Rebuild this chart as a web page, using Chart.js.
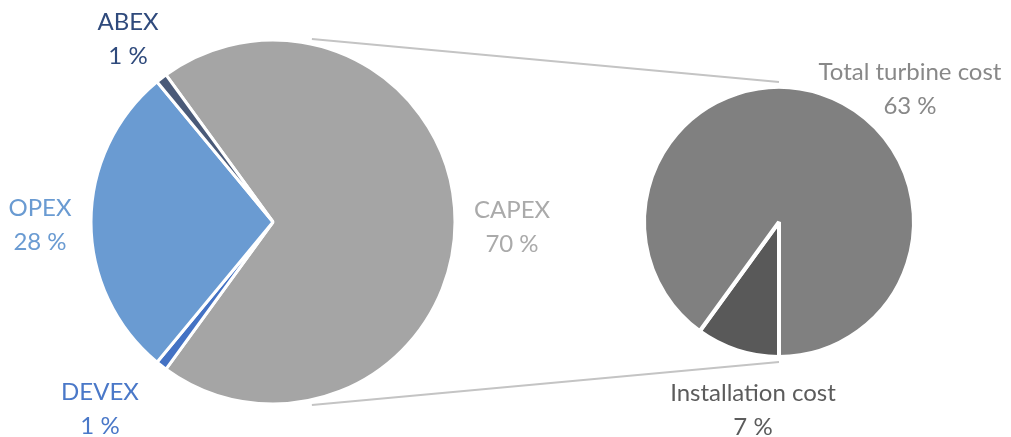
<!DOCTYPE html>
<html>
<head>
<meta charset="utf-8">
<script src="https://cdn.jsdelivr.net/npm/chart.js@4.4.0/dist/chart.umd.min.js"></script>
<style>
  html, body { margin: 0; padding: 0; background: #fff; }
  #wrap { position: relative; width: 1011px; height: 437px; }
  #wrap canvas { position: absolute; left: 0; top: 0; }
</style>
</head>
<body>
<div id="wrap">
  <canvas id="mainPie" width="1011" height="437"></canvas>
  <canvas id="subPie" width="1011" height="437"></canvas>
</div>
<script>
// cost breakdown (share of lifetime cost, %)
const costCategories = ['CAPEX', 'DEVEX', 'OPEX', 'ABEX'];
const costShares = [70, 1, 28, 1];
const costColors = ['#a5a5a5', '#4472c4', '#6a9bd2', '#4a5a78'];
const costLabelColors = ['#aaaaaa', '#4a78c8', '#6a9bd2', '#2f4a7c'];

// CAPEX split
const capexCategories = ['Installation cost', 'Total turbine cost'];
const capexShares = [7, 63];
const capexColors = ['#595959', '#808080'];
const capexLabelColors = ['#5c5c5c', '#888888'];

const W = 1011, H = 437;
const FONT = '24px Lato, "Open Sans", sans-serif';

// where each pie sits on the page
const mainGeom = { cx: 273, cy: 222, r: 182 };
const subGeom = { cx: 779, cy: 222, r: 135 };

// label anchors (text centre, first line)
const mainLabelPos = {
  CAPEX: [512, 210],
  DEVEX: [100, 392],
  OPEX: [40, 208],
  ABEX: [128, 22]
};
const subLabelPos = {
  'Installation cost': [753, 393],
  'Total turbine cost': [910, 72]
};

function paddingFor(g, border) {
  const s = border / 2;
  return {
    left: g.cx - g.r - s,
    right: W - g.cx - g.r - s,
    top: g.cy - g.r - s,
    bottom: H - g.cy - g.r - s
  };
}

function labelPlugin(id, cats, values, colors, pos) {
  return {
    id: id,
    afterDraw(chart) {
      const ctx = chart.ctx;
      ctx.save();
      ctx.font = FONT;
      ctx.textAlign = 'center';
      ctx.textBaseline = 'middle';
      cats.forEach((c, i) => {
        const p = pos[c];
        ctx.fillStyle = colors[i];
        ctx.fillText(c, p[0], p[1]);
        ctx.fillText(values[i] + ' %', p[0], p[1] + 34);
      });
      ctx.restore();
    }
  };
}

function pieOptions(g, border, rotation) {
  return {
    responsive: false,
    animation: false,
    events: [],
    rotation: rotation,
    layout: { padding: paddingFor(g, border) },
    plugins: { legend: { display: false }, tooltip: { enabled: false } }
  };
}

const mainChart = new Chart(document.getElementById('mainPie'), {
  type: 'pie',
  data: {
    labels: costCategories,
    datasets: [{
      data: costShares,
      backgroundColor: costColors,
      borderColor: '#ffffff',
      borderWidth: 3,
      hoverOffset: 0
    }]
  },
  options: pieOptions(mainGeom, 3, 324),
  plugins: [labelPlugin('mainLabels', costCategories, costShares, costLabelColors, mainLabelPos)]
});

// grey lines tying the CAPEX slice to the breakdown pie
const connectorPlugin = {
  id: 'connectors',
  beforeDatasetsDraw(chart) {
    const a = mainChart.getDatasetMeta(0).data[0];
    const b = chart.getDatasetMeta(0).data[0];
    const ang = 12 * Math.PI / 180;
    const r1 = a.outerRadius + 5, r2 = b.outerRadius + 5;
    const ctx = chart.ctx;
    ctx.save();
    ctx.strokeStyle = '#c4c4c4';
    ctx.lineWidth = 2;
    [-1, 1].forEach(sign => {
      ctx.beginPath();
      ctx.moveTo(a.x + r1 * Math.sin(ang), a.y + sign * r1 * Math.cos(ang));
      ctx.lineTo(b.x, b.y + sign * r2);
      ctx.stroke();
    });
    ctx.restore();
  }
};

const subChart = new Chart(document.getElementById('subPie'), {
  type: 'pie',
  data: {
    labels: capexCategories,
    datasets: [{
      data: capexShares,
      backgroundColor: capexColors,
      borderColor: '#ffffff',
      borderWidth: 4,
      hoverOffset: 0
    }]
  },
  options: pieOptions(subGeom, 4, 180),
  plugins: [connectorPlugin, labelPlugin('subLabels', capexCategories, capexShares, capexLabelColors, subLabelPos)]
});
</script>
</body>
</html>
